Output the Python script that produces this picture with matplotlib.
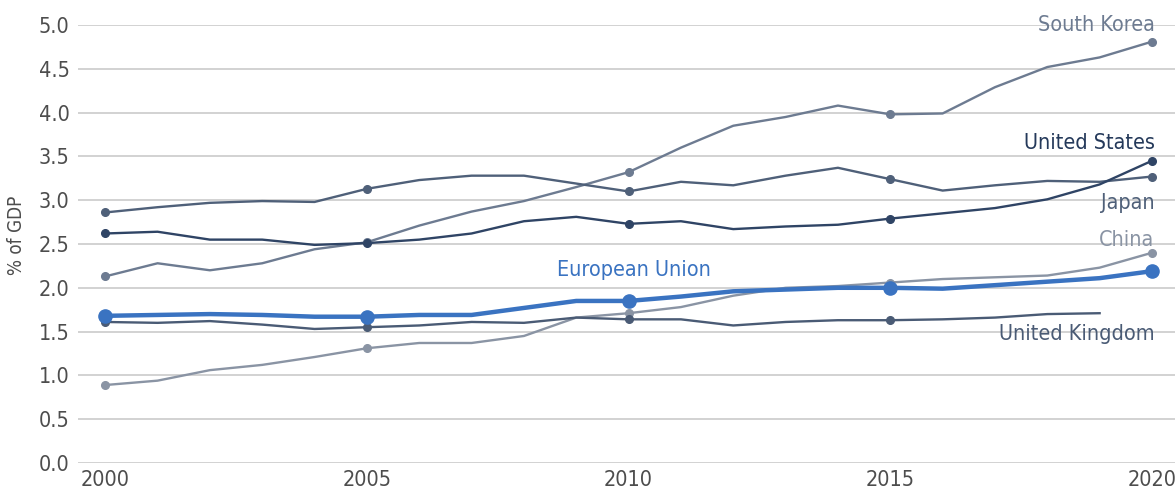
import numpy as np
import matplotlib
matplotlib.use('Agg')
import matplotlib.pyplot as plt
from matplotlib import font_manager

# --- look for a narrow face, the reference uses a condensed sans
narrow = None
for f in font_manager.fontManager.ttflist:
    fn = f.fname.lower()
    if ('condensed' in fn or 'narrow' in fn) and f.style == 'normal' and f.weight in (400, 'normal'):
        if 'semi' in fn or 'extra' in fn:
            continue
        narrow = f
        break

if narrow is not None:
    plt.rcParams['font.family'] = [narrow.name, 'DejaVu Sans']
    plt.rcParams['font.stretch'] = narrow.stretch
    scale = 1.0
else:
    plt.rcParams['font.family'] = ['Roboto', 'DejaVu Sans']
    scale = 0.85

years = list(range(2000, 2021))

south_korea = [2.13, 2.28, 2.20, 2.28, 2.44, 2.52, 2.71, 2.87, 2.99, 3.15, 3.32,
               3.60, 3.85, 3.95, 4.08, 3.98, 3.99, 4.29, 4.52, 4.63, 4.81]
japan = [2.86, 2.92, 2.97, 2.99, 2.98, 3.13, 3.23, 3.28, 3.28, 3.19, 3.10,
         3.21, 3.17, 3.28, 3.37, 3.24, 3.11, 3.17, 3.22, 3.21, 3.27]
united_states = [2.62, 2.64, 2.55, 2.55, 2.49, 2.51, 2.55, 2.62, 2.76, 2.81, 2.73,
                 2.76, 2.67, 2.70, 2.72, 2.79, 2.85, 2.91, 3.01, 3.18, 3.45]
china = [0.89, 0.94, 1.06, 1.12, 1.21, 1.31, 1.37, 1.37, 1.45, 1.66, 1.71,
         1.78, 1.91, 2.00, 2.02, 2.06, 2.10, 2.12, 2.14, 2.23, 2.40]
european_union = [1.68, 1.69, 1.70, 1.69, 1.67, 1.67, 1.69, 1.69, 1.77, 1.85, 1.85,
                  1.90, 1.96, 1.98, 2.00, 2.00, 1.99, 2.03, 2.07, 2.11, 2.19]
united_kingdom = [1.61, 1.60, 1.62, 1.58, 1.53, 1.55, 1.57, 1.61, 1.60, 1.66, 1.64,
                  1.64, 1.57, 1.61, 1.63, 1.63, 1.64, 1.66, 1.70, 1.71]

yticks = [0.0, 0.5, 1.0, 1.5, 2.0, 2.5, 3.0, 3.5, 4.0, 4.5, 5.0]
xticks = [2000, 2005, 2010, 2015, 2020]

fig = plt.figure(figsize=(11.75, 4.92), dpi=100)
ax = fig.add_axes((78 / 1175, 29 / 492, 1097 / 1175, 438 / 492))

# --- series: (values, colour, line width, marker size)
series = [
    (china, '#8a94a4', 1.7, 5.5),
    (south_korea, '#6d7b91', 1.7, 5.5),
    (japan, '#4f6079', 1.7, 5.5),
    (united_kingdom, '#4a5b75', 1.7, 5.5),
    (united_states, '#2f4465', 1.7, 5.5),
    (european_union, '#3a73c1', 3.2, 9.5),
]

for vals, c, lw, ms in series:
    x = years[:len(vals)]
    ax.plot(x, vals, color=c, lw=lw, zorder=3)
    mx = [yr for yr in xticks if yr in x]
    my = [vals[x.index(yr)] for yr in mx]
    ax.plot(mx, my, 'o', color=c, ms=ms, zorder=4)

ax.set_xlim(1999.48, 2020.44)
ax.set_ylim(0, 5)
ax.set_yticks(yticks)
ax.set_yticklabels([f'{v:.1f}' for v in yticks])
ax.set_xticks(xticks)
ax.grid(axis='y', color='#cbcbcb', lw=1.2, zorder=0)
for s in ax.spines.values():
    s.set_visible(False)
ax.tick_params(length=0, labelsize=15.5 * scale, colors='#4d4d4d', pad=6)
ax.tick_params(axis='x', pad=5)
ax.set_ylabel('% of GDP', fontsize=13.5 * scale, color='#4d4d4d')
ax.yaxis.set_label_coords(-52 / 1097, 0.52)

# --- direct labels (gridlines run through them, no background box)
lab = 15.5 * scale
ax.text(2020.05, 5.0, 'South Korea', ha='right', va='center', fontsize=lab,
        color='#6d7b91', zorder=5, clip_on=False)
ax.text(2020.05, 3.65, 'United States', ha='right', va='center', fontsize=lab,
        color='#24395a', zorder=5)
ax.text(2020.05, 2.97, 'Japan', ha='right', va='center', fontsize=lab,
        color='#4f6079', zorder=5)
ax.text(2020.05, 2.55, 'China', ha='right', va='center', fontsize=lab,
        color='#8a94a4', zorder=5)
ax.text(2010.1, 2.2, 'European Union', ha='center', va='center', fontsize=lab,
        color='#3a73c1', zorder=5)
ax.text(2020.05, 1.47, 'United Kingdom', ha='right', va='center', fontsize=lab,
        color='#4a5b75', zorder=5)

fig.savefig('out.png', dpi=100)
